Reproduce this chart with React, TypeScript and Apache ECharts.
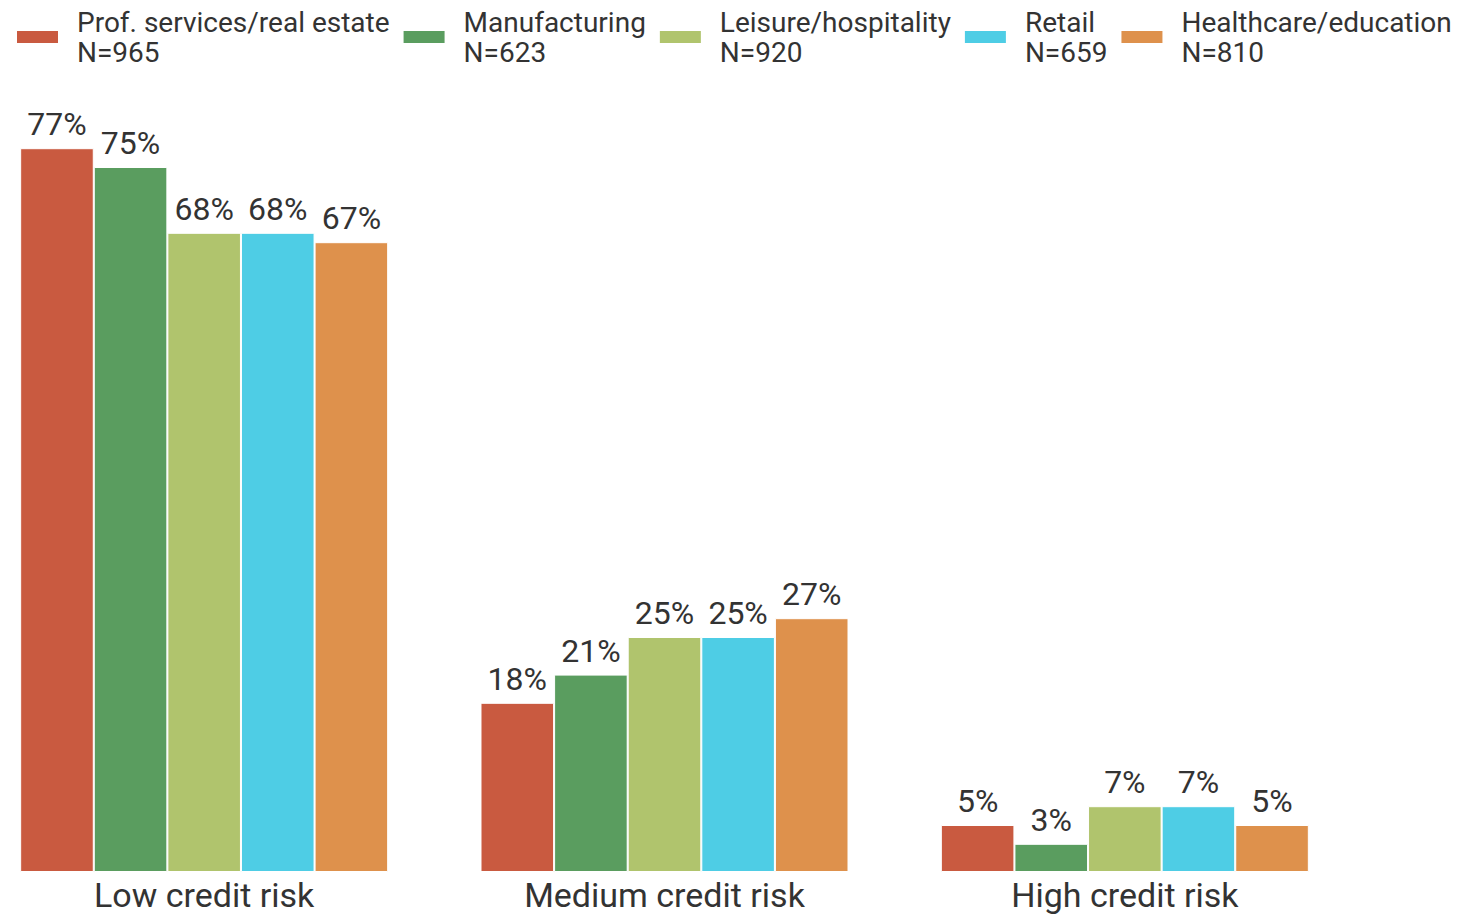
import React, { useEffect, useRef } from "react";
import * as echarts from "echarts";

const categories = ["Low credit risk", "Medium credit risk", "High credit risk"];
const seriesNames = [
  "Prof. services/real estate",
  "Manufacturing",
  "Leisure/hospitality",
  "Retail",
  "Healthcare/education",
];
const sampleSizes = ["N=965", "N=623", "N=920", "N=659", "N=810"];
const profServices = [77, 18, 5];
const manufacturing = [75, 21, 3];
const leisure = [68, 25, 7];
const retail = [68, 25, 7];
const healthcare = [67, 27, 5];
const colors = ["#C95A40", "#5A9D5F", "#B0C46D", "#4ECDE5", "#DE914C"];

const allValues = [profServices, manufacturing, leisure, retail, healthcare];

export default function App() {
  const ref = useRef<HTMLDivElement>(null);
  useEffect(() => {
    if (!ref.current) return;
    const chart = echarts.init(ref.current, null, { renderer: "svg" });
    const nMap: Record<string, string> = {};
    seriesNames.forEach((n, i) => (nMap[n] = sampleSizes[i]));
    chart.setOption({
      animation: false,
      textStyle: { fontFamily: "Roboto" },
      legend: {
        left: 41,
        top: 7,
        padding: 0,
        width: 1470,
        itemWidth: 43,
        itemHeight: 14,
        itemGap: 12,
        icon: "rect",
        data: seriesNames,
        formatter: (name: string) => `${name}\n${nMap[name]}`,
        textStyle: {
          fontSize: 28,
          lineHeight: 30,
          color: "#333",
          fontFamily: "Roboto",
          padding: [0, 0, 0, 13],
        },
      },
      grid: { left: 0, right: 105, top: 120, bottom: 42 },
      xAxis: {
        type: "category",
        data: categories,
        axisLine: { show: false },
        axisTick: { show: false },
        axisLabel: {
          fontSize: 34,
          color: "#333",
          margin: 6,
          fontFamily: "Roboto",
        },
      },
      yAxis: {
        type: "value",
        min: 0,
        max: 80,
        show: false,
        splitLine: { show: false },
      },
      series: seriesNames.map((name, i) => ({
        name,
        type: "bar",
        data: allValues[i],
        barWidth: 73.6,
        barGap: "0%",
        itemStyle: { color: colors[i], borderColor: "#fff", borderWidth: 1 },
        label: {
          show: true,
          position: "top",
          distance: 8,
          formatter: "{c}%",
          fontSize: 32,
          color: "#333",
          fontFamily: "Roboto",
        },
      })),
    });
    return () => chart.dispose();
  }, []);
  return (
    <div
      ref={ref}
      style={{ position: "fixed", left: -26, top: 0, width: 1486, height: 914, background: "#fff" }}
    />
  );
}
